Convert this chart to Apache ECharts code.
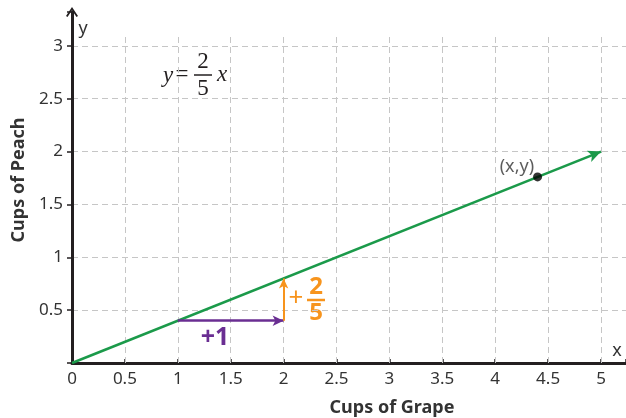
<!DOCTYPE html>
<html>
  <head>
    <meta charset="utf-8" />
  </head>
  <body style="height: 100%; margin: 0">
    <div id="container" style="width: 626px; height: 418px"></div>

    <script
      type="text/javascript"
      src="https://fastly.jsdelivr.net/npm/echarts@6.0.0/dist/echarts.min.js"
    ></script>

    <script type="text/javascript">
      // grid / tick values
      var xTicks = [0.5, 1, 1.5, 2, 2.5, 3, 3.5, 4, 4.5, 5];
      var gridTop = 3.12;
      var xMax = 5.236;
      var yMax = 3.32;

      // y = 2/5 x
      var lineFrom = [0, 0];
      var lineTo = [5, 2];
      var point = [4.4, 1.76];
      // slope triangle: run +1, rise +2/5
      var runFrom = [1, 0.4];
      var runTo = [2, 0.4];
      var riseTo = [2, 0.8];

      var FONT = "Noto Sans";
      var INK = "#231f20";
      var GREEN = "#1b9a4a";
      var PURPLE = "#6a2e92";
      var ORANGE = "#f7941d";

      var dom = document.getElementById("container");
      var myChart = echarts.init(dom, null, { renderer: "canvas" });

      function arrow(from, to, color, width, size) {
        return {
          type: "line",
          data: [],
          silent: true,
          markLine: {
            silent: true,
            animation: false,
            symbol: ["none", "arrow"],
            symbolSize: size,
            label: { show: false },
            emphasis: { disabled: true },
            lineStyle: { color: color, width: width, type: "solid" },
            data: [[{ coord: from }, { coord: to }]],
          },
        };
      }

      function txt(x, y, text, font, color) {
        return {
          type: "text",
          x: x,
          y: y,
          silent: true,
          style: {
            text: text,
            fill: color,
            font: font,
            align: "center",
            verticalAlign: "middle",
          },
        };
      }

      var option = {
        animation: false,
        grid: {
          left: 72,
          right: 0,
          top: 12,
          bottom: 55,
          containLabel: false,
          outerBoundsMode: "none",
        },
        xAxis: {
          type: "value",
          min: 0,
          max: xMax,
          interval: 0.5,
          name: "Cups of Grape",
          nameLocation: "middle",
          nameGap: 36,
          nameTextStyle: {
            fontFamily: FONT,
            fontWeight: "bold",
            fontSize: 18,
            color: "#333",
            padding: [0, 0, 0, 86],
          },
          axisLine: {
            onZero: false,
            lineStyle: { color: INK, width: 3 },
          },
          axisTick: {
            inside: true,
            length: 4,
            lineStyle: { color: INK, width: 1.5 },
          },
          axisLabel: {
            fontFamily: FONT,
            fontSize: 17,
            color: "#333",
            margin: 8,
            formatter: function (v) {
              return v > 5.01 ? "" : String(v);
            },
          },
          splitLine: { show: false },
        },
        yAxis: {
          type: "value",
          min: 0,
          max: yMax,
          interval: 0.5,
          name: "Cups of Peach",
          nameLocation: "middle",
          nameGap: 44,
          nameTextStyle: {
            fontFamily: FONT,
            fontWeight: "bold",
            fontSize: 18,
            color: "#333",
            padding: [0, 0, 0, 15],
          },
          axisLine: {
            onZero: false,
            symbol: ["none", "path://M0,9 L6,0 L12,9 L10.5,10 L6,3.2 L1.5,10 Z"],
            symbolSize: [13, 10],
            lineStyle: { color: INK, width: 3 },
          },
          axisTick: {
            length: 5,
            lineStyle: { color: INK, width: 1.5 },
          },
          axisLabel: {
            fontFamily: FONT,
            fontSize: 17,
            color: "#333",
            margin: 9,
            formatter: function (v) {
              return v === 0 || v > 3.01 ? "" : String(v);
            },
          },
          splitLine: {
            show: true,
            showMinLine: false,
            showMaxLine: false,
            lineStyle: { color: "#c6c6c6", width: 1, type: [6, 4] },
          },
        },
        series: [
          {
            type: "line",
            data: [],
            silent: true,
            z: 1,
            markLine: {
              silent: true,
              animation: false,
              symbol: "none",
              label: { show: false },
              emphasis: { disabled: true },
              lineStyle: { color: "#c6c6c6", width: 1, type: [6, 4] },
              data: xTicks.map(function (v) {
                return [{ coord: [v, 0] }, { coord: [v, gridTop] }];
              }),
            },
          },
          arrow(lineFrom, lineTo, GREEN, 2.5, [9, 13]),
          arrow(runFrom, runTo, PURPLE, 2.5, [8, 11]),
          arrow(runTo, riseTo, ORANGE, 2, [7, 10]),
          {
            type: "scatter",
            data: [point],
            symbolSize: 9,
            silent: true,
            z: 5,
            itemStyle: { color: "#000" },
            label: {
              show: true,
              position: "left",
              distance: 4,
              offset: [5, -10],
              formatter: "(x,y)",
              fontFamily: FONT,
              fontSize: 18,
              color: "#333",
            },
          },
        ],
        graphic: [
          txt(83, 29, "y", "18px " + FONT, "#333"),
          txt(617, 351, "x", "18px " + FONT, "#333"),
          // equation y = 2/5 x
          txt(168, 76, "y", "italic 23px 'Liberation Serif'", INK),
          txt(182, 75, "=", "23px 'Liberation Serif'", INK),
          txt(203, 62, "2", "23px 'Liberation Serif'", INK),
          {
            type: "line",
            silent: true,
            shape: { x1: 194, y1: 75, x2: 212, y2: 75 },
            style: { stroke: INK, lineWidth: 1.5 },
          },
          txt(203, 89, "5", "23px 'Liberation Serif'", INK),
          txt(222, 75, "x", "italic 23px 'Liberation Serif'", INK),
          // slope labels
          txt(215, 338, "+1", "bold 25px " + FONT, PURPLE),
          txt(296, 299, "+", "26px " + FONT, ORANGE),
          txt(316, 287, "2", "bold 24px " + FONT, ORANGE),
          {
            type: "line",
            silent: true,
            shape: { x1: 307, y1: 300, x2: 325, y2: 300 },
            style: { stroke: ORANGE, lineWidth: 2.5 },
          },
          txt(316, 313, "5", "bold 24px " + FONT, ORANGE),
        ],
      };

      myChart.setOption(option);
      window.addEventListener("resize", myChart.resize);
    </script>
  </body>
</html>
